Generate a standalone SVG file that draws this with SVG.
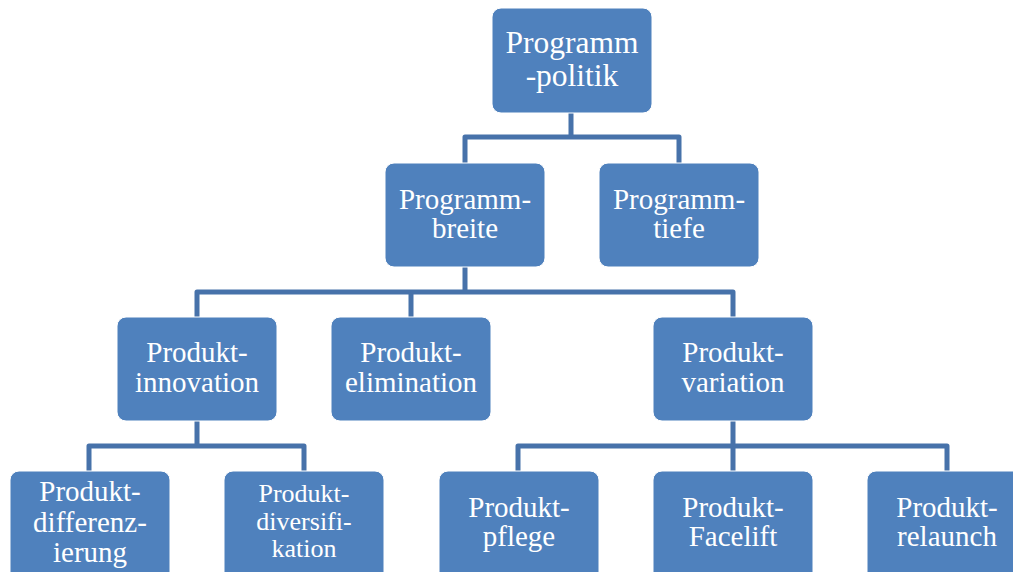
<svg xmlns="http://www.w3.org/2000/svg" width="1013" height="572" viewBox="0 0 1013 572">
<style>
.box{fill:#4F81BD;stroke:#ffffff;stroke-width:1}
.t{fill:#ffffff;font-family:"Liberation Serif","Times New Roman",serif;font-size:29px;text-anchor:middle}
.conn{fill:none;stroke:#4772AA;stroke-width:5;stroke-linejoin:round}
</style>
<rect width="1013" height="572" fill="#ffffff"/>
<g id="connectors">
<path class="conn" d="M571,113 V137 M465,163 V137 H679 V163"/>
<path class="conn" d="M465,267 V292 M197,317 V292 H733 V317 M411,292 V317"/>
<path class="conn" d="M197,421 V446 M89,471 V446 H304 V471"/>
<path class="conn" d="M733,421 V471 M518,471 V446 H947 V471"/>
</g>
<g id="n-programmpolitik">
<rect class="box" x="492" y="8" width="160" height="105" rx="9"/>
<text class="t" x="572" y="53" style="font-size:31.5px">Programm</text>
<text class="t" x="572" y="86" style="font-size:31.5px">-politik</text>
</g>
<g id="n-programmbreite">
<rect class="box" x="385" y="163" width="160" height="104" rx="9"/>
<text class="t" x="465" y="209">Programm-</text>
<text class="t" x="465" y="238">breite</text>
</g>
<g id="n-programmtiefe">
<rect class="box" x="599" y="163" width="160" height="104" rx="9"/>
<text class="t" x="679" y="209">Programm-</text>
<text class="t" x="679" y="238">tiefe</text>
</g>
<g id="n-produktinnovation">
<rect class="box" x="117" y="317" width="160" height="104" rx="9"/>
<text class="t" x="197" y="362">Produkt-</text>
<text class="t" x="197" y="392">innovation</text>
</g>
<g id="n-produktelimination">
<rect class="box" x="331" y="317" width="160" height="104" rx="9"/>
<text class="t" x="411" y="362">Produkt-</text>
<text class="t" x="411" y="392">elimination</text>
</g>
<g id="n-produktvariation">
<rect class="box" x="653" y="317" width="160" height="104" rx="9"/>
<text class="t" x="733" y="362">Produkt-</text>
<text class="t" x="733" y="392">variation</text>
</g>
<g id="n-produktdifferenzierung">
<rect class="box" x="10" y="471" width="160" height="110" rx="9"/>
<text class="t" x="90" y="501">Produkt-</text>
<text class="t" x="90" y="532">differenz-</text>
<text class="t" x="90" y="562">ierung</text>
</g>
<g id="n-produktdiversifikation">
<rect class="box" x="224" y="471" width="160" height="110" rx="9"/>
<text class="t" x="304" y="502" style="font-size:26px">Produkt-</text>
<text class="t" x="304" y="530" style="font-size:26px">diversifi-</text>
<text class="t" x="304" y="557" style="font-size:26px">kation</text>
</g>
<g id="n-produktpflege">
<rect class="box" x="439" y="471" width="160" height="110" rx="9"/>
<text class="t" x="519" y="517">Produkt-</text>
<text class="t" x="519" y="546">pflege</text>
</g>
<g id="n-produktfacelift">
<rect class="box" x="653" y="471" width="160" height="110" rx="9"/>
<text class="t" x="733" y="517">Produkt-</text>
<text class="t" x="733" y="546">Facelift</text>
</g>
<g id="n-produktrelaunch">
<rect class="box" x="867" y="471" width="160" height="110" rx="9"/>
<text class="t" x="947" y="517">Produkt-</text>
<text class="t" x="947" y="546">relaunch</text>
</g>
</svg>
